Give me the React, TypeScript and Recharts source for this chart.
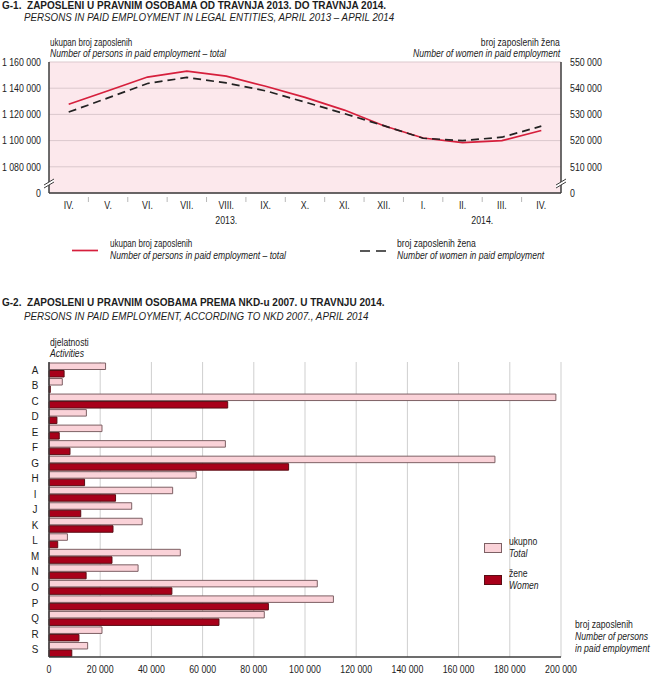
import React from 'react';
import { LineChart, Line, XAxis, YAxis, CartesianGrid, BarChart, Bar } from 'recharts';

// ---------- G-1 data ----------
const months = ['IV.', 'V.', 'VI.', 'VII.', 'VIII.', 'IX.', 'X.', 'XI.', 'XII.', 'I.', 'II.', 'III.', 'IV.'];
const totalEmployed = [1127700, 1138000, 1148500, 1153000, 1149200, 1141500, 1133000, 1123300, 1111300, 1102000, 1098500, 1100000, 1107700];
const womenEmployed = [530900, 536300, 541800, 544100, 542000, 539000, 534700, 530300, 525700, 520900, 520000, 521300, 525500];
const yearGroups = [
  { label: '2013.', from: 0, to: 8 },
  { label: '2014.', from: 9, to: 12 },
];
const leftTicks = [1060000, 1080000, 1100000, 1120000, 1140000, 1160000];
const rightTicks = [500000, 510000, 520000, 530000, 540000, 550000];

// ---------- G-2 data ----------
const activities = ['A', 'B', 'C', 'D', 'E', 'F', 'G', 'H', 'I', 'J', 'K', 'L', 'M', 'N', 'O', 'P', 'Q', 'R', 'S'];
const totalByActivity = [22100, 5200, 198000, 14600, 20700, 68900, 174200, 57500, 48300, 32300, 36400, 7200, 51300, 34800, 104800, 111100, 84100, 20700, 15100];
const womenByActivity = [5900, 500, 69800, 3100, 4000, 8200, 93600, 13900, 26000, 12400, 25000, 3400, 24600, 14500, 48000, 85700, 66400, 11700, 8900];
const barTicks = [0, 20000, 40000, 60000, 80000, 100000, 120000, 140000, 160000, 180000, 200000];

const lineData = months.map((m, i) => ({ month: m, total: totalEmployed[i], women: womenEmployed[i] }));
const barData = activities.map((a, i) => ({ act: a, total: totalByActivity[i], women: womenByActivity[i] }));

const FONT = "'Liberation Sans', Arial, sans-serif";
const TXT = '#1c1c1c';
const AXIS = '#3c3c3c';
const RED_LINE = '#d61f3c';
const PINK = '#fad2d8';
const PINK_STROKE = '#7d6064';
const DARK_RED = '#a8001a';
const DARK_RED_STROKE = '#5a0d14';
const HALF_BAND = 19.7;

const fmt = (v: number) => String(v).replace(/\B(?=(\d{3})+(?!\d))/g, ' ');

const Label = ({ x, y, size = 10, sx = 0.86, italic = false, bold = false, align = 'left', children }: any) => (
  <div
    style={{
      position: 'absolute',
      left: align === 'right' ? undefined : x,
      right: align === 'right' ? 660 - x : undefined,
      top: y - size / 2 - 1,
      fontSize: size,
      lineHeight: `${size + 2}px`,
      fontStyle: italic ? 'italic' : 'normal',
      fontWeight: bold ? 'bold' : 'normal',
      fontFamily: FONT,
      color: TXT,
      whiteSpace: 'nowrap',
      transform: `scaleX(${sx})`,
      transformOrigin: align === 'right' ? 'right center' : 'left center',
    }}
  >
    {children}
  </div>
);

const SText = ({ x, y, anchor = 'middle', size = 11, sx = 0.8, dy = '0.35em', children }: any) => (
  <text
    transform={`translate(${x} ${y}) scale(${sx} 1)`}
    x={0}
    y={0}
    dy={dy}
    textAnchor={anchor}
    style={{ fontFamily: FONT, fontSize: size }}
    fill={TXT}
  >
    {children}
  </text>
);

const BreakMark = ({ cx, cy }: { cx: number; cy: number }) => (
  <g>
    <polygon points={`${cx - 5},${cy + 3} ${cx + 5},${cy - 3} ${cx + 5},${cy} ${cx - 5},${cy + 6}`} fill="#ffffff" />
    <line x1={cx - 5} y1={cy + 3} x2={cx + 5} y2={cy - 3} stroke={AXIS} strokeWidth={1} />
    <line x1={cx - 5} y1={cy + 6} x2={cx + 5} y2={cy} stroke={AXIS} strokeWidth={1} />
  </g>
);

const LeftTick = (props: any) => {
  const { x, y, payload } = props;
  const isMin = payload.value === leftTicks[0];
  return (
    <g>
      <SText x={x} y={y} anchor="end">{isMin ? '0' : fmt(payload.value)}</SText>
      {isMin && <BreakMark cx={x + 8} cy={y - 11} />}
    </g>
  );
};

const RightTick = (props: any) => {
  const { x, y, payload } = props;
  const isMin = payload.value === rightTicks[0];
  return (
    <g>
      <SText x={x + 1} y={y} anchor="start">{isMin ? '0' : fmt(payload.value)}</SText>
      {isMin && <BreakMark cx={x - 8} cy={y - 11} />}
    </g>
  );
};

const MonthTick = (props: any) => {
  const { x, y, payload, index } = props;
  const band = HALF_BAND * 2;
  const axisY = y - 8;
  const group = yearGroups.find((g) => g.from === index);
  return (
    <g>
      {index > 0 && (
        <line x1={x - band / 2} y1={axisY + 4} x2={x - band / 2} y2={axisY + 9} stroke="#b8b8b8" strokeWidth={1} />
      )}
      <SText x={x} y={y} dy="0.71em">{payload.value}</SText>
      {group && (
        <SText x={x + ((group.to - group.from) * band) / 2} y={y + 15} dy="0.71em">
          {group.label}
        </SText>
      )}
    </g>
  );
};

const ActTick = (props: any) => {
  const { x, y, payload } = props;
  return <SText x={x - 6} y={y} size={11} sx={0.9}>{payload.value}</SText>;
};

const ValTick = (props: any) => {
  const { x, y, payload } = props;
  return <SText x={x} y={y} dy="0.71em">{fmt(payload.value)}</SText>;
};

export default function App() {
  return (
    <div style={{ position: 'absolute', left: 0, top: 0, width: 660, height: 676, background: '#fff', fontFamily: FONT, overflow: 'hidden' }}>
      {/* G-1 titles */}
      <Label x={2} y={6} size={11.5} sx={0.87} bold>G-1.&nbsp;&nbsp;ZAPOSLENI U PRAVNIM OSOBAMA OD TRAVNJA 2013. DO TRAVNJA 2014.</Label>
      <Label x={24} y={18} size={11.5} sx={0.85} italic>PERSONS IN PAID EMPLOYMENT IN LEGAL ENTITIES, APRIL 2013 – APRIL 2014</Label>
      <Label x={50} y={43} size={10} sx={0.8}>ukupan broj zaposlenih</Label>
      <Label x={50} y={54} size={10} italic>Number of persons in paid employment – total</Label>
      <Label x={560} y={43} size={10} align="right">broj zaposlenih žena</Label>
      <Label x={560} y={54} size={10} italic align="right">Number of women in paid employment</Label>

      <div style={{ position: 'absolute', left: 0, top: 0 }}>
        <LineChart width={660} height={240} data={lineData} margin={{ top: 62, right: 0, bottom: 17, left: 0 }}>
          <CartesianGrid yAxisId="left" vertical={false} fill="#fce8ec" stroke="#dbc8cd" strokeWidth={1} />
          <XAxis
            dataKey="month"
            interval={0}
            height={30}
            padding={{ left: HALF_BAND, right: HALF_BAND }}
            tickLine={false}
            axisLine={{ stroke: AXIS, strokeWidth: 1.5 }}
            tick={<MonthTick />}
          />
          <YAxis
            yAxisId="left"
            width={49}
            domain={[leftTicks[0], leftTicks[leftTicks.length - 1]]}
            ticks={leftTicks}
            tickLine={false}
            axisLine={{ stroke: AXIS, strokeWidth: 1.5 }}
            tick={<LeftTick />}
          />
          <YAxis
            yAxisId="right"
            orientation="right"
            width={99}
            domain={[rightTicks[0], rightTicks[rightTicks.length - 1]]}
            ticks={rightTicks}
            tickLine={false}
            axisLine={{ stroke: AXIS, strokeWidth: 1.5 }}
            tick={<RightTick />}
          />
          <Line yAxisId="left" dataKey="total" stroke={RED_LINE} strokeWidth={1.7} dot={false} isAnimationActive={false} />
          <Line yAxisId="right" dataKey="women" stroke="#222" strokeWidth={1.7} strokeDasharray="8 5" dot={false} isAnimationActive={false} />
        </LineChart>
      </div>

      {/* G-1 legend */}
      <svg style={{ position: 'absolute', left: 0, top: 240 }} width={660} height={20}>
        <line x1={72} y1={10.5} x2={98} y2={10.5} stroke={RED_LINE} strokeWidth={1.7} />
        <line x1={360} y1={11} x2={386} y2={11} stroke="#222" strokeWidth={1.7} strokeDasharray="10 6" />
      </svg>
      <Label x={110} y={244} size={10} sx={0.8}>ukupan broj zaposlenih</Label>
      <Label x={110} y={256} size={10} italic>Number of persons in paid employment – total</Label>
      <Label x={397} y={244} size={10}>broj zaposlenih žena</Label>
      <Label x={397} y={256} size={10} italic>Number of women in paid employment</Label>

      {/* G-2 titles */}
      <Label x={2} y={303} size={11.5} sx={0.87} bold>G-2.&nbsp;&nbsp;ZAPOSLENI U PRAVNIM OSOBAMA PREMA NKD-u 2007. U TRAVNJU 2014.</Label>
      <Label x={24} y={317} size={11.5} sx={0.85} italic>PERSONS IN PAID EMPLOYMENT, ACCORDING TO NKD 2007., APRIL 2014</Label>
      <Label x={50} y={343} size={10}>djelatnosti</Label>
      <Label x={50} y={354} size={10} italic>Activities</Label>

      <div style={{ position: 'absolute', left: 0, top: 330 }}>
        <BarChart
          width={660}
          height={346}
          data={barData}
          layout="vertical"
          margin={{ top: 32, right: 99, bottom: 0, left: 0 }}
          barSize={6.5}
          barGap={1}
        >
          <CartesianGrid horizontal={false} stroke="#cfcfcf" strokeWidth={1} />
          <XAxis
            type="number"
            domain={[0, 200000]}
            ticks={barTicks}
            height={19}
            tickLine={false}
            axisLine={{ stroke: AXIS, strokeWidth: 1.5 }}
            tick={<ValTick />}
            interval={0}
          />
          <XAxis
            xAxisId="top"
            orientation="top"
            type="number"
            domain={[0, 200000]}
            height={0}
            tick={false}
            tickLine={false}
            axisLine={{ stroke: '#cfcfcf', strokeWidth: 1 }}
          />
          <YAxis
            type="category"
            dataKey="act"
            width={49}
            interval={0}
            tickLine={false}
            axisLine={{ stroke: AXIS, strokeWidth: 1.5 }}
            tick={<ActTick />}
          />
          <Bar dataKey="total" fill={PINK} stroke={PINK_STROKE} strokeWidth={1} isAnimationActive={false} />
          <Bar dataKey="women" fill={DARK_RED} stroke={DARK_RED_STROKE} strokeWidth={1} isAnimationActive={false} />
        </BarChart>
      </div>

      {/* G-2 legend */}
      <svg style={{ position: 'absolute', left: 0, top: 530 }} width={660} height={70}>
        <rect x={484.5} y={13.5} width={17} height={9} fill={PINK} stroke={PINK_STROKE} strokeWidth={1} />
        <rect x={484.5} y={45.5} width={17} height={9} fill={DARK_RED} stroke={DARK_RED_STROKE} strokeWidth={1} />
      </svg>
      <Label x={509} y={542} size={10}>ukupno</Label>
      <Label x={509} y={554} size={10} italic>Total</Label>
      <Label x={509} y={574} size={10}>žene</Label>
      <Label x={509} y={586} size={10} italic>Women</Label>

      <Label x={575} y={625} size={10}>broj zaposlenih</Label>
      <Label x={575} y={637} size={10} italic>Number of persons</Label>
      <Label x={575} y={649} size={10} italic>in paid employment</Label>
    </div>
  );
}
